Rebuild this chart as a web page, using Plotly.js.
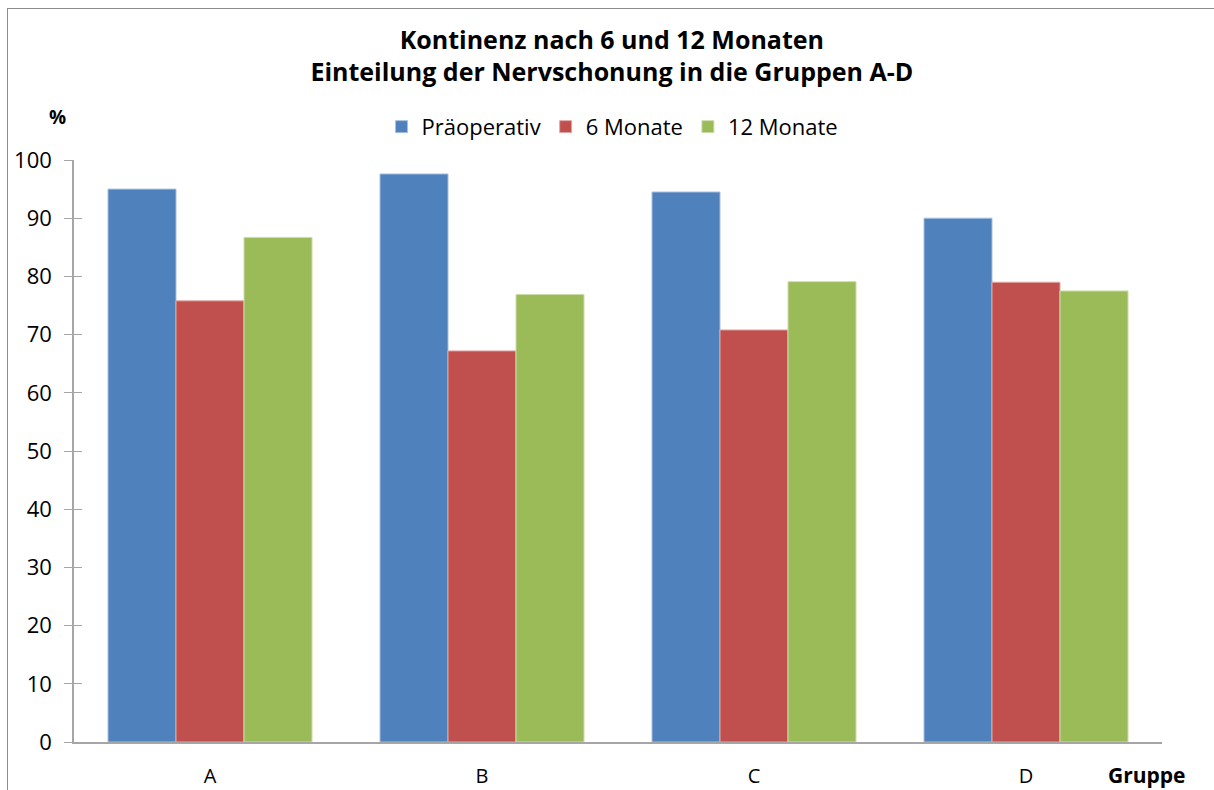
<!DOCTYPE html>
<html>
<head>
<meta charset="utf-8">
<script src="https://cdn.plot.ly/plotly-3.0.1.min.js"></script>
<style>
html,body{margin:0;padding:0;background:#fff;overflow:hidden;}
#frame{position:absolute;left:7px;top:8px;width:1300px;height:900px;border:1.5px solid #8c8c8c;box-sizing:border-box;}
#chart{position:absolute;left:0;top:0;width:1214px;height:790px;}
</style>
</head>
<body>
<div id="frame"></div>
<div id="chart"></div>
<script>
const categories = ["A", "B", "C", "D"];
const praeoperativ = [95.0, 97.6, 94.5, 90.0];
const monate6 = [75.8, 67.2, 70.8, 79.0];
const monate12 = [86.7, 76.9, 79.1, 77.5];
const seriesNames = ["Präoperativ", "6 Monate", "12 Monate"];
const yTicks = [0, 10, 20, 30, 40, 50, 60, 70, 80, 90, 100];

const FONT = "'Open Sans', 'DejaVu Sans', sans-serif";
const colors = ["#4f81bd", "#c0504d", "#9bbb59"];
const lineColors = ["#a7c0de", "#e0a8a6", "#cddcac"];

const traces = [praeoperativ, monate6, monate12].map((vals, i) => ({
  type: "bar",
  name: seriesNames[i],
  x: categories,
  y: vals,
  marker: {color: colors[i], line: {color: lineColors[i], width: 1}},
  hoverinfo: "x+y"
}));

const layout = {
  width: 1214,
  height: 790,
  paper_bgcolor: "rgba(0,0,0,0)",
  plot_bgcolor: "rgba(0,0,0,0)",
  margin: {l: 74, r: 52, t: 160, b: 48},
  barmode: "group",
  bargap: 0.25,
  bargroupgap: 0,
  font: {family: FONT, color: "#000"},
  title: {
    text: "<b>Kontinenz nach 6 und 12 Monaten<br>Einteilung der Nervschonung in die Gruppen A-D</b>",
    font: {family: FONT, size: 25, color: "#000"},
    x: 0.504, xanchor: "center",
    y: 0.938, yanchor: "top"
  },
  showlegend: true,
  legend: {
    orientation: "h",
    x: 0.495, xanchor: "center",
    y: 1.057, yanchor: "middle",
    font: {family: FONT, size: 22, color: "#000"},
    itemwidth: 30,
    tracegroupgap: 0
  },
  xaxis: {
    type: "category",
    showline: true,
    linecolor: "#a6a6a6",
    linewidth: 1.5,
    ticks: "outside",
    tickcolor: "rgba(0,0,0,0)",
    ticklen: 15,
    tickfont: {family: FONT, size: 20, color: "#000"},
    showgrid: false,
    zeroline: false,
    fixedrange: true
  },
  yaxis: {
    range: [0, 100],
    tickvals: yTicks,
    ticktext: yTicks.map(String),
    showline: true,
    linecolor: "#a6a6a6",
    linewidth: 1.5,
    ticks: "outside",
    ticklen: 8,
    tickcolor: "#a6a6a6",
    tickwidth: 1,
    ticklabelstandoff: 8,
    tickfont: {family: FONT, size: 22, color: "#000"},
    showgrid: false,
    zeroline: false,
    fixedrange: true
  },
  yaxis2: {
    range: [0, 100],
    overlaying: "y",
    tickvals: yTicks,
    showticklabels: false,
    ticks: "inside",
    ticklen: 8,
    tickcolor: "#a6a6a6",
    tickwidth: 1,
    showline: false,
    showgrid: false,
    zeroline: false,
    fixedrange: true
  },
  annotations: [
    {text: "<b>%</b>", xref: "paper", yref: "paper", x: -0.015, y: 1.0, xanchor: "center", yanchor: "bottom", yshift: 28, showarrow: false, font: {family: FONT, size: 19, color: "#000"}},
    {text: "<b>Gruppe</b>", xref: "paper", yref: "paper", x: 1.0, y: 0, xanchor: "center", yanchor: "top", yshift: -17, xshift: -15, showarrow: false, font: {family: FONT, size: 21, color: "#000"}}
  ]
};

traces.push({type: "scatter", x: [categories[0]], y: [0], yaxis: "y2", mode: "markers", marker: {opacity: 0}, showlegend: false, hoverinfo: "skip"});

Plotly.newPlot("chart", traces, layout, {displayModeBar: false});
</script>
</body>
</html>
